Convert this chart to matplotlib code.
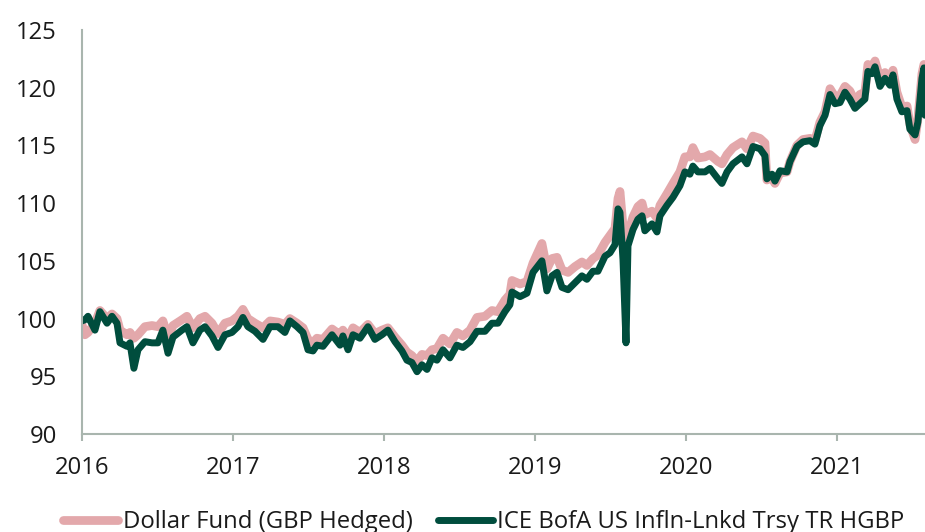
import matplotlib
matplotlib.use("Agg")
import matplotlib.pyplot as plt

plt.rcParams["font.family"] = ["Open Sans", "DejaVu Sans"]

# dates as decimal years (rebased to 100)
dates = [
    2016.000, 2016.020, 2016.040, 2016.086, 2016.119, 2016.166, 2016.199, 2016.232, 2016.252,
    2016.298, 2016.318, 2016.344, 2016.371, 2016.417, 2016.464, 2016.503, 2016.536, 2016.570,
    2016.603, 2016.662, 2016.695, 2016.735, 2016.781, 2016.815, 2016.861, 2016.901, 2016.947,
    2016.993, 2017.033, 2017.066, 2017.099, 2017.146, 2017.199, 2017.245, 2017.298, 2017.344,
    2017.377, 2017.424, 2017.464, 2017.497, 2017.530, 2017.556, 2017.596, 2017.656, 2017.709,
    2017.728, 2017.762, 2017.795, 2017.841, 2017.894, 2017.940, 2017.987, 2018.026, 2018.073,
    2018.119, 2018.152, 2018.185, 2018.219, 2018.252, 2018.285, 2018.318, 2018.351, 2018.391,
    2018.437, 2018.483, 2018.523, 2018.570, 2018.616, 2018.669, 2018.715, 2018.755, 2018.801,
    2018.834, 2018.848, 2018.901, 2018.947, 2018.987, 2019.046, 2019.079, 2019.113, 2019.146,
    2019.179, 2019.219, 2019.265, 2019.311, 2019.344, 2019.384, 2019.417, 2019.464, 2019.497,
    2019.530, 2019.550, 2019.563, 2019.583, 2019.603, 2019.616, 2019.649, 2019.682, 2019.709,
    2019.728, 2019.775, 2019.808, 2019.828, 2019.874, 2019.914, 2019.960, 2019.993, 2020.026,
    2020.046, 2020.079, 2020.126, 2020.159, 2020.212, 2020.238, 2020.272, 2020.311, 2020.371,
    2020.404, 2020.444, 2020.490, 2020.523, 2020.536, 2020.570, 2020.589, 2020.623, 2020.669,
    2020.689, 2020.735, 2020.775, 2020.821, 2020.854, 2020.887, 2020.921, 2020.954, 2020.987,
    2021.020, 2021.053, 2021.086, 2021.119, 2021.152, 2021.185, 2021.205, 2021.232, 2021.252,
    2021.285, 2021.318, 2021.351, 2021.371, 2021.397, 2021.430, 2021.464, 2021.483, 2021.517,
    2021.536, 2021.563, 2021.576, 2021.583,
]

fund = [
    99.5, 98.6, 98.8, 99.6, 100.7, 100.0, 100.4, 100.0, 99.0,
    98.6, 98.8, 98.3, 98.6, 99.3, 99.4, 99.3, 99.8, 98.4,
    99.4, 99.9, 100.2, 99.2, 100.0, 100.2, 99.6, 98.7, 99.6,
    99.8, 100.2, 100.8, 100.0, 99.6, 99.2, 99.8, 99.7, 99.5,
    100.0, 99.6, 99.2, 98.2, 97.9, 98.3, 98.2, 99.1, 98.6,
    99.0, 98.3, 99.2, 98.8, 99.5, 98.7, 99.0, 99.2, 98.4,
    97.7, 97.1, 96.8, 96.3, 96.9, 96.8, 97.3, 97.4, 98.3,
    97.8, 98.8, 98.5, 99.0, 100.1, 100.2, 100.7, 100.6, 101.6,
    102.1, 103.3, 103.0, 103.2, 104.8, 106.5, 104.3, 105.2, 105.3,
    104.2, 104.0, 104.5, 104.9, 104.6, 105.2, 105.5, 106.6, 107.2,
    107.8, 110.4, 111.0, 108.0, 107.0, 107.3, 108.8, 109.7, 110.0,
    109.0, 109.3, 108.7, 109.8, 110.8, 111.7, 112.7, 114.0, 114.0,
    114.8, 113.9, 114.0, 114.2, 113.6, 113.4, 114.2, 114.8, 115.3,
    114.7, 115.8, 115.6, 115.2, 112.0, 112.2, 111.7, 112.6, 112.7,
    113.6, 115.0, 115.5, 115.6, 115.4, 117.0, 117.9, 119.9, 119.2,
    119.3, 120.1, 119.7, 118.8, 119.4, 119.6, 122.0, 121.8, 122.3,
    120.8, 121.3, 120.8, 121.5, 119.6, 118.3, 118.4, 116.8, 115.5,
    117.3, 121.2, 122.0, 121.7,
]

index = [
    99.8, 99.9, 100.2, 99.0, 100.6, 99.6, 100.2, 99.6, 97.9,
    97.6, 97.9, 95.7, 97.3, 98.0, 97.9, 97.9, 99.0, 97.0,
    98.4, 99.0, 99.3, 97.9, 99.0, 99.3, 98.5, 97.5, 98.6,
    98.8, 99.3, 100.1, 99.3, 98.9, 98.2, 99.3, 99.3, 98.8,
    99.8, 99.3, 98.8, 97.3, 97.2, 97.7, 97.6, 98.6, 97.7,
    98.5, 97.3, 98.6, 98.3, 99.3, 98.2, 98.6, 99.0, 98.0,
    97.2, 96.4, 96.2, 95.4, 96.0, 95.6, 96.6, 96.4, 97.3,
    96.6, 97.7, 97.5, 98.0, 98.9, 98.9, 99.6, 99.6, 100.6,
    101.2, 102.3, 101.9, 102.2, 104.0, 105.0, 102.4, 103.7, 104.0,
    102.7, 102.5, 103.1, 103.7, 103.4, 104.1, 104.1, 105.4, 105.7,
    106.4, 109.5, 109.2, 105.1, 97.9, 106.3, 107.7, 108.6, 108.9,
    107.6, 108.2, 107.5, 108.9, 109.8, 110.5, 111.5, 112.7, 112.5,
    113.2, 112.7, 112.7, 113.0, 112.1, 111.7, 112.7, 113.4, 114.0,
    113.4, 114.9, 114.7, 114.1, 112.1, 112.5, 111.9, 112.8, 112.7,
    113.6, 114.9, 115.3, 115.4, 115.1, 116.7, 117.6, 119.4, 118.6,
    118.7, 119.6, 119.0, 118.2, 118.6, 119.0, 121.4, 121.2, 121.8,
    120.1, 120.8, 120.2, 121.1, 119.0, 117.9, 118.0, 116.4, 115.9,
    117.0, 120.8, 121.7, 117.6,
]

fund_label = "Dollar Fund (GBP Hedged)"
index_label = "ICE BofA US Infln-Lnkd Trsy TR HGBP"
years = [2016, 2017, 2018, 2019, 2020, 2021]
yticks = [90, 95, 100, 105, 110, 115, 120, 125]

pink = "#E3A8AB"
green = "#004D3D"
spine_col = "#A9B5AE"
text_col = "#1A1A1A"
fs = 17.2

fig = plt.figure(figsize=(9.25, 5.32), dpi=100)
ax = fig.add_axes([0.0886, 0.184, 0.9114, 0.76])

ax.plot(dates, fund, color=pink, lw=6.3, solid_joinstyle="round", solid_capstyle="round", label=fund_label)
ax.plot(dates, index, color=green, lw=5.0, solid_joinstyle="round", solid_capstyle="round", label=index_label)

ax.set_xlim(2016, 2021.583)
ax.set_ylim(90, 125)
ax.set_xticks(years)
ax.set_xticklabels([str(y) for y in years])
ax.set_yticks(yticks)

for s in ["top", "right"]:
    ax.spines[s].set_visible(False)
for s in ["left", "bottom"]:
    ax.spines[s].set_color(spine_col)
    ax.spines[s].set_linewidth(1.5)

ax.tick_params(axis="y", length=0, pad=18, labelsize=fs, labelcolor=text_col)
ax.tick_params(axis="x", length=5, width=1.5, color=spine_col, pad=11, labelsize=fs, labelcolor=text_col)

fig.legend(loc="center", bbox_to_anchor=(0.523, 0.018), ncol=2, frameon=False,
           fontsize=fs, handlelength=2.3, handletextpad=0.2, columnspacing=1.05,
           labelcolor=text_col)

fig.savefig("out.png", dpi=100)
